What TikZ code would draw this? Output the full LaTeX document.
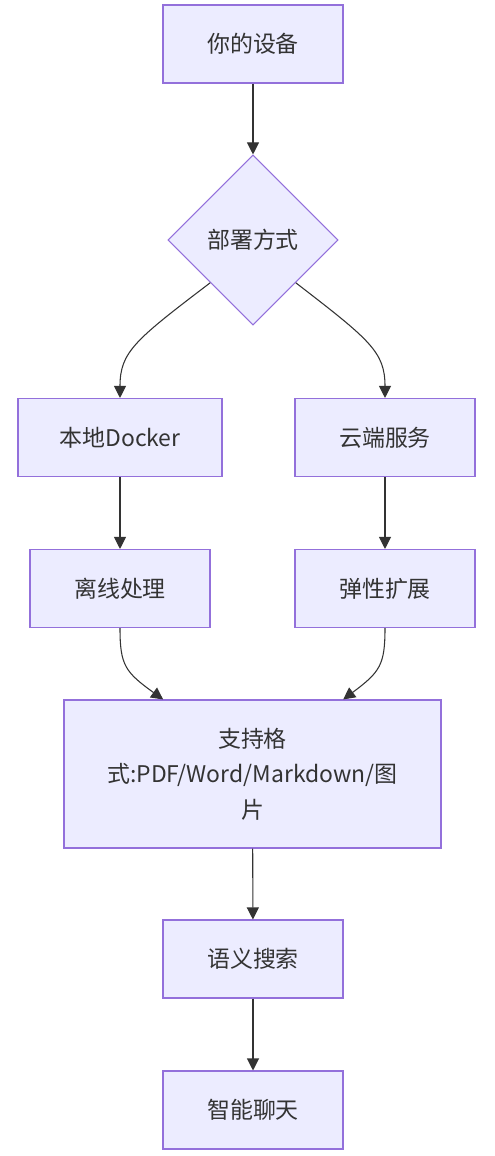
\documentclass[tikz,border=0pt]{standalone}
\usepackage{fontspec}
\setmainfont{Noto Sans CJK SC}
\usetikzlibrary{shapes.geometric,arrows.meta}
\definecolor{boxfill}{HTML}{ECECFF}
\definecolor{boxline}{HTML}{9370DB}
\definecolor{edgeline}{HTML}{333333}

\begin{document}
\begin{tikzpicture}[x=0.75pt,y=-0.75pt]
    \tikzset{StepStyle/.style = {draw=boxline, fill=boxfill, line width=0.8pt,
        text=edgeline, font=\fontsize{17.2}{26.5}\selectfont, inner sep=0pt,
        minimum width=135pt, minimum height=58.5pt, align=center}}
    \tikzset{EdgeStyle/.style = {draw=edgeline, line width=0.8pt,
        -{Triangle[length=9pt,width=9pt]}}}
    \useasboundingbox (0,0) rectangle (494,1156);
    \node[StepStyle] (dev) at (253,44) {你的设备};
    \node[StepStyle, diamond, aspect=1, minimum width=127.5pt, minimum height=127.5pt] (mode) at (253,240) {部署方式};
    \node[StepStyle, minimum width=153pt] (docker) at (120,437.5) {本地Docker};
    \node[StepStyle] (cloud) at (385,437.5) {云端服务};
    \node[StepStyle] (offline) at (120,588.5) {离线处理};
    \node[StepStyle] (scale) at (385,588.5) {弹性扩展};
    \node[StepStyle, minimum width=282.75pt, minimum height=111pt] (fmt) at (252.5,774) {支持格\\式:PDF/Word/Markdown/图\\片};
    \node[StepStyle] (search) at (253,959) {语义搜索};
    \node[StepStyle] (chat) at (253,1110) {智能聊天};
    \draw[EdgeStyle] (dev) -- (mode);
    \draw[EdgeStyle] (mode.south west) .. controls (135,340) and (120,352) .. (docker.north);
    \draw[EdgeStyle] (mode.south east) .. controls (370,340) and (385,352) .. (cloud.north);
    \draw[EdgeStyle] (docker) -- (offline);
    \draw[EdgeStyle] (cloud) -- (scale);
    \draw[EdgeStyle] (offline.south) .. controls (120,665) and (125,672) .. ([xshift=-67pt]fmt.north);
    \draw[EdgeStyle] (scale.south) .. controls (385,665) and (380,672) .. ([xshift=68pt]fmt.north);
    \draw[EdgeStyle] (fmt) -- (search);
    \draw[EdgeStyle] (search) -- (chat);
\end{tikzpicture}
\end{document}
